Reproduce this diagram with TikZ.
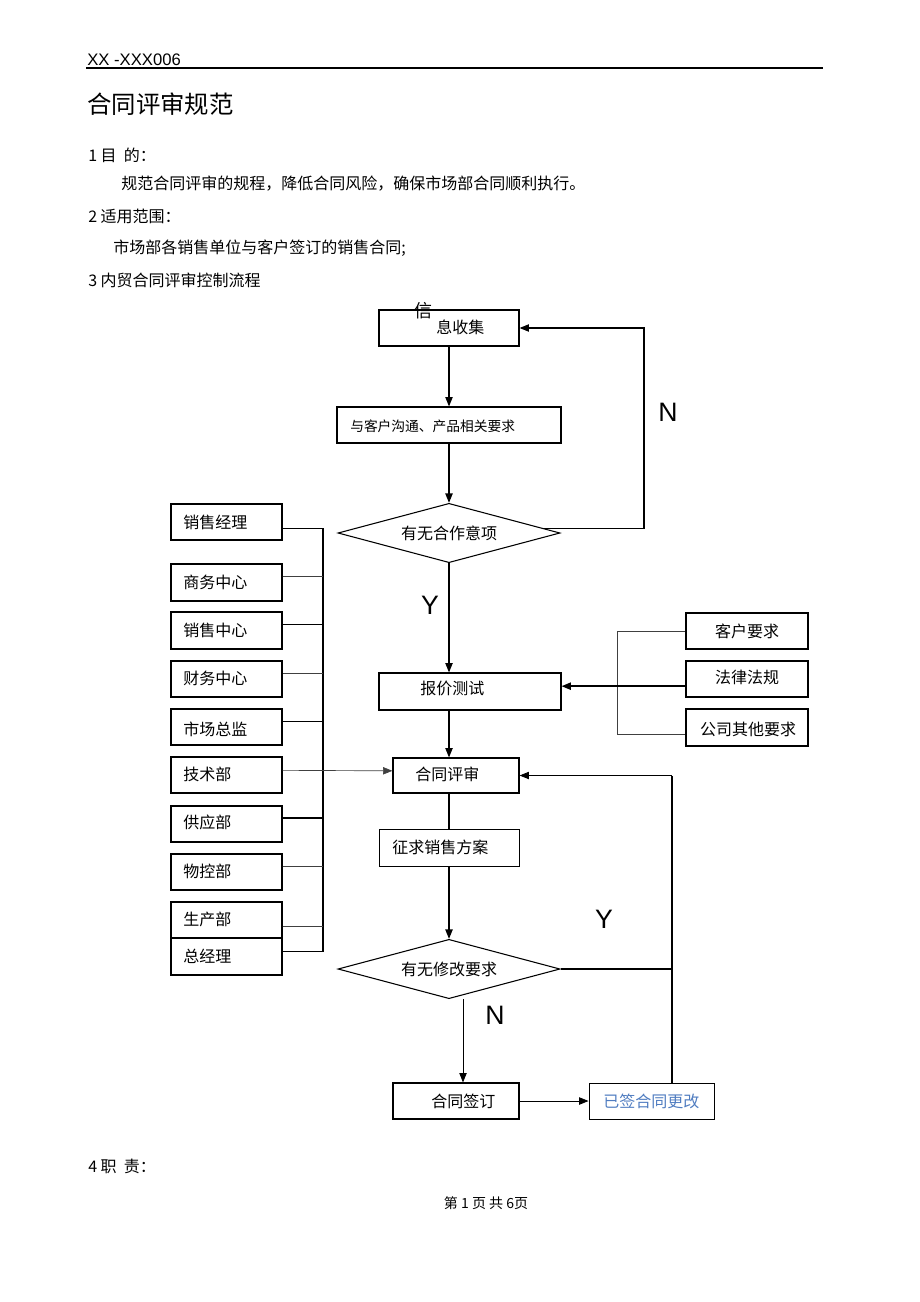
\documentclass[tikz,border=0pt]{standalone}
\usepackage{fontspec}
\setmainfont{Liberation Sans}
\newfontfamily\cjk{Noto Sans CJK SC}
\usetikzlibrary{arrows.meta,fit,shapes.geometric}
\definecolor{linkblue}{HTML}{4F7CC0}
\begin{document}
\begin{tikzpicture}[x=0.75pt,y=-0.75pt,
  box/.style={draw,line width=0.9pt,inner sep=0pt},
  dia/.style={draw,diamond,line width=0.8pt,inner sep=0pt,minimum width=166.5pt,minimum height=44.5pt,shape aspect=3.76,font=\cjk\fontsize{12}{14}\selectfont},
  txt/.style={font=\cjk\fontsize{12}{14}\selectfont,inner sep=0pt,anchor=west},
  stxt/.style={font=\cjk\fontsize{10.3}{12}\selectfont,inner sep=0pt,anchor=west},
  body/.style={font=\cjk\fontsize{12}{14}\selectfont,inner sep=0pt,anchor=west},
  yn/.style={font=\fontsize{20}{22}\selectfont,inner sep=0pt},
  arr/.style={-{Triangle[length=7pt,width=5.5pt]},line width=0.8pt},
  ln/.style={line width=0.8pt},
  thin/.style={line width=0.5pt,black!75}]
\useasboundingbox (0,0) rectangle (920,1302);

% header
\node[inner sep=0pt,anchor=west,font=\fontsize{12.5}{14}\selectfont] (hdr) at (87,60) {XX -XXX006};
\coordinate (hl) at (86,68);
\coordinate (hr) at (823,68);
\draw[line width=1.4pt] (hl) -- (hr);
\node[inner sep=0pt,anchor=west,font=\cjk\fontsize{18.3}{20}\selectfont] (title) at (87,104) {合同评审规范};
\node[body] (s1) at (88,155) {1 目\ \ 的：};
\node[body] (s1t) at (121,184) {规范合同评审的规程，降低合同风险，确保市场部合同顺利执行。};
\node[body] (s2) at (88,216) {2 适用范围：};
\node[body] (s2t) at (113,248) {市场部各销售单位与客户签订的销售合同;};
\node[body] (s3) at (88,280) {3 内贸合同评审控制流程};
\node[body] (s4) at (88,1166) {4 职\ \ 责：};
\node[inner sep=0pt,font=\cjk\fontsize{10.5}{12}\selectfont] (foot) at (486,1203) {第\ 1\ 页\ 共\ 6页};

% main column boxes
\node[box,fit={(379,310) (519,346)}] (info) {};
\node[inner sep=0pt,font=\cjk\fontsize{13.5}{14}\selectfont] (infoA) at (423,311) {信};
\node[txt] (infoB) at (436,327) {息收集};
\node[box,fit={(337,407) (561,443)}] (comm) {};
\node[stxt] (commT) at (350,426) {与客户沟通、产品相关要求};
\node[dia] (d1) at (449,533) {有无合作意项};
\node[box,fit={(379,673) (561,710)}] (quote) {};
\node[txt] (quoteT) at (420,688) {报价测试};
\node[box,fit={(393,758) (519,793)}] (review) {};
\node[txt] (reviewT) at (415,774) {合同评审};
\node[box,line width=0.6pt,fit={(379,829) (519,866)}] (plan) {};
\node[txt] (planT) at (392,847) {征求销售方案};
\node[dia] (d2) at (449,969) {有无修改要求};
\node[box,fit={(393,1083) (519,1119)}] (sign) {};
\node[txt] (signT) at (431,1101) {合同签订};
\node[box,line width=0.7pt,fit={(589,1083) (714,1119)}] (chg) {};
\node[txt,text=linkblue] (chgT) at (603,1101) {已签合同更改};

% labels
\node[yn] (N1) at (668,412) {N};
\node[yn] (Y1) at (430,605) {Y};
\node[yn] (Y2) at (604,919) {Y};
\node[yn] (N2) at (495,1015) {N};

% left boxes
\node[box,fit={(171,504) (282,540)}] (L1) {};
\node[txt] at (183,522) {销售经理};
\node[box,fit={(171,564) (282,601)}] (L2) {};
\node[txt] at (183,582) {商务中心};
\node[box,line width=1.1pt,fit={(171,612) (282,649)}] (L3) {};
\node[txt] at (183,630) {销售中心};
\node[box,fit={(171,661) (282,697)}] (L4) {};
\node[txt] at (183,678) {财务中心};
\node[box,fit={(171,709) (282,745)}] (L5) {};
\node[txt] at (183,729) {市场总监};
\node[box,fit={(171,757) (282,793)}] (L6) {};
\node[txt] at (183,774) {技术部};
\node[box,fit={(171,806) (282,842)}] (L7) {};
\node[txt] at (183,822) {供应部};
\node[box,fit={(171,854) (282,890)}] (L8) {};
\node[txt] at (183,871) {物控部};
\node[box,fit={(171,902) (282,938)}] (L9) {};
\node[txt] at (183,919) {生产部};
\node[box,fit={(171,938) (282,975)}] (L10) {};
\node[txt] at (183,956) {总经理};

% right boxes
\node[box,fit={(686,613) (808,649)}] (R1) {};
\node[txt,anchor=center] at (747,631) {客户要求};
\node[box,fit={(686,661) (808,697)}] (R2) {};
\node[txt,anchor=center] at (747,677) {法律法规};
\node[box,fit={(686,709) (808,746)}] (R3) {};
\node[txt,anchor=center] at (748,729) {公司其他要求};

% helper coordinates
\coordinate (sp) at (449,0);
\coordinate (nR) at (644,0);
\coordinate (yx) at (672,0);
\coordinate (nx) at (463,0);
\coordinate (bus) at (323,0);
\coordinate (rb) at (617,0);

% main flow
\draw[arr] (info.south) -- (comm.north);
\draw[arr] (comm.south) -- (d1.north);
\draw[arr] ([xshift=-13pt,yshift=3.5pt]d1.east) -- ([yshift=3.5pt]d1.east -| nR) -- (nR |- info.east) -- (info.east);
\draw[arr] (d1.south) -- (sp |- quote.north);
\draw[arr] (sp |- quote.south) -- (sp |- review.north);
\draw[ln] (sp |- review.south) -- (sp |- plan.north);
\draw[arr] (sp |- plan.south) -- (d2.north);
\draw[line width=1.2pt] (d2.east) -- (yx |- d2.east);
\draw[ln] (yx |- chg.north) -- (yx |- review.east);
\draw[arr,line width=0.6pt] (yx |- review.east) -- (review.east);
\draw[arr,line width=0.6pt] (nx |- d2.south) -- (nx |- sign.north);
\draw[arr,line width=0.6pt] (sign.east) -- (chg.west);

% left bus
\draw[ln] ([yshift=-5pt]L1.east) -- ([yshift=-5pt]bus |- L1.east) -- ([yshift=4pt]bus |- L10.east) -- ([yshift=4pt]L10.east);
\draw[thin] ([yshift=4.5pt]L2.east) -- ([yshift=4.5pt]bus |- L2.east);
\draw[ln] ([yshift=4.5pt]L3.east) -- ([yshift=4.5pt]bus |- L3.east);
\draw[thin] ([yshift=4.5pt]L4.east) -- ([yshift=4.5pt]bus |- L4.east);
\draw[ln] ([yshift=4pt]L5.east) -- ([yshift=4pt]bus |- L5.east);
\draw[arr,thin] ([yshift=3.5pt]L6.east) -- ([yshift=3.5pt]review.west);
\draw[ln] ([yshift=4.5pt]L7.east) -- ([yshift=4.5pt]bus |- L7.east);
\draw[thin] ([yshift=4.5pt]L8.east) -- ([yshift=4.5pt]bus |- L8.east);
\draw[thin] ([yshift=-5pt]L9.east) -- ([yshift=-5pt]bus |- L9.east);

% right bracket
\draw[thin] (R1.west) -- (rb |- R1.west) -- ([yshift=-5pt]rb |- R3.west) -- ([yshift=-5pt]R3.west);
\draw[arr,line width=1.1pt] ([yshift=4pt]R2.west |- quote.east) -- ([yshift=4pt]quote.east);
\end{tikzpicture}
\end{document}
